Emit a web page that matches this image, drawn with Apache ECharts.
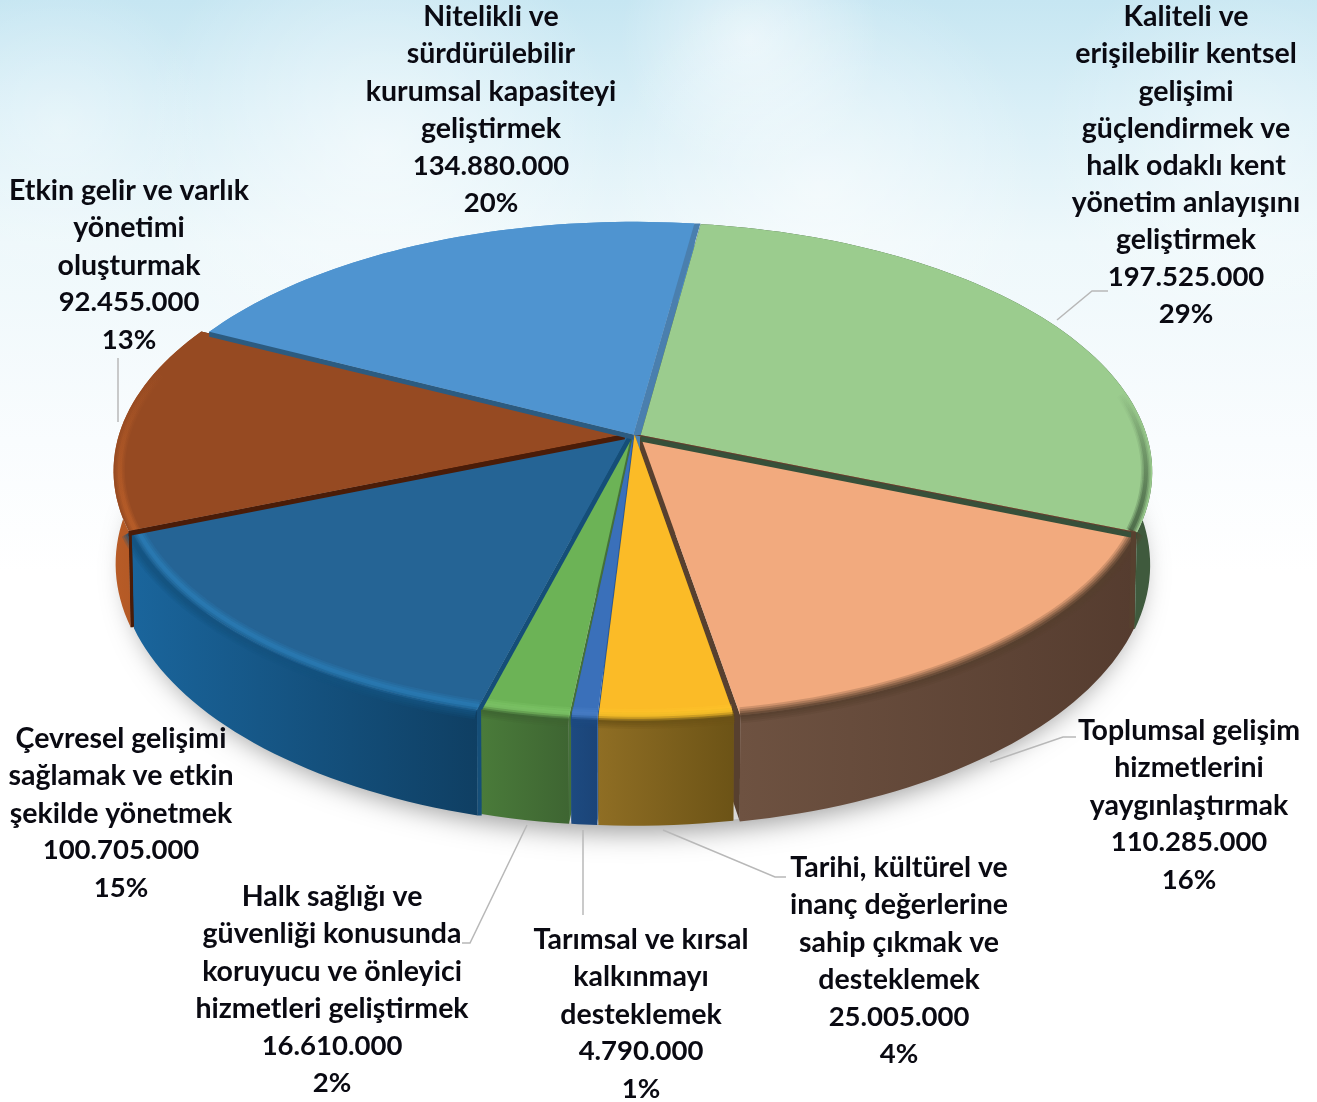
<!DOCTYPE html>
<html><head><meta charset="utf-8">
<style>html,body{margin:0;padding:0;background:#fff}#c{width:1317px;height:1102px}</style>
<script src="https://cdn.jsdelivr.net/npm/echarts@6/dist/echarts.min.js"></script>
</head><body><div id="c"></div>
<script>
const categories = [
  "Kaliteli ve\nerişilebilir kentsel\ngelişimi\ngüçlendirmek ve\nhalk odaklı kent\nyönetim anlayışını\ngeliştirmek",
  "Toplumsal gelişim\nhizmetlerini\nyaygınlaştırmak",
  "Tarihi, kültürel ve\ninanç değerlerine\nsahip çıkmak ve\ndesteklemek",
  "Tarımsal ve kırsal\nkalkınmayı\ndesteklemek",
  "Halk sağlığı ve\ngüvenliği konusunda\nkoruyucu ve önleyici\nhizmetleri geliştirmek",
  "Çevresel gelişimi\nsağlamak ve etkin\nşekilde yönetmek",
  "Etkin gelir ve varlık\nyönetimi\noluşturmak",
  "Nitelikli ve\nsürdürülebilir\nkurumsal kapasiteyi\ngeliştirmek"
];
const values = [197525000,110285000,25005000,4790000,16610000,100705000,92455000,134880000];
const percents = ["29%","16%","4%","1%","2%","15%","13%","20%"];

const topColors = ["#9bcc8e","#f2aa7e","#fbbb27","#3a70ba","#6cb356","#256495","#964a22","#4f94d0"];
const wallStops = [
  ["#3f5a3d","#3f5a3d"],["#6e5241","#553c2f"],["#8f6e24","#6c5316"],["#1d4a80","#1b4478"],
  ["#4a7b3a","#3e6532"],["#1a659c","#0f3f63"],["#b85c27","#a24e1f"],["#4f94d0","#4f94d0"]
];
const edgeWalls = [
  ["#3a5a38","#37533a"],["#57402f","#57402f"],["#7d5e1a","#7d5e1a"],["#2a5a9a","#2a5a9a"],
  ["#45703a","#45703a"],["#154e78","#154e78"],["#4a1c08","#4a1c08"],["#4a7fae","#2c5b80"]
];
// soft edge of each top face; fade = fades out towards the top of the chart
const softEdges = [
  {color:'#3f5a3d',r:0.988,range:[80,112],fade:true},
  {color:'#57402f',r:1},
  {color:'#6c5316',r:1.004,glow:'#ffc62a'},
  {color:'#1d4a80',r:1.004,glow:'#4a80c8'},
  {color:'#3e6532',r:1.004,glow:'#80c96a'},
  {color:'#14527f',r:1.006,glow:'#2c7db8'},
  {color:'#bd6029',r:0.988,range:[245,285],fade:true},
  null
];
// strips along a slice's radial edges: which edge, offset of the strip, colour, strip down the wall
const bands = [
  [{edge:1,dx:0,dy:6,color:'#37503a'}],
  [{edge:0,dx:-6,dy:0,color:'#57402f',drop:-5}],
  [],[],[],
  [{edge:0,dx:5,dy:0,color:'#154e78',drop:4}],
  [{edge:0,dx:0,dy:5,color:'#4a1c08',drop:3}],
  [{edge:0,dx:0,dy:5,color:'#2c5b80'},{edge:1,dx:6,dy:0,color:'#4a7fae'}]
];
const offsets = [[0.012,0.002],[0.011,0.000],[0.000,-0.002],[-0.002,-0.002],[-0.006,-0.002],[-0.012,0.002],[-0.019,-0.003],[-0.002,-0.001]];
const paintOrder = [7,0,6,5,1,4,3,2];
const labelAt = [[1186,17],[1189,731],[899,868],[641,940],[332,897],[121,739],[129,191],[491,17]];
const leaders = [
  [[1057,320],[1092,291],[1108,291]],
  [[990,762],[1063,737],[1076,737]],
  [[663,830],[775,877],[786,877]],
  [[583,830],[583,915]],
  [[527,825],[470,943],[462,943]],
  null,
  [[118,358],[118,422]],
  null
];

const CX=634.5, CY=435, R=506, S=243.8, P=0.1446, D=91, START=7.9;
const LINE=37.2, FONT='bold 28.5px Lato', NUMFONT='bold 27.5px Lato';
const total = values.reduce((a,b)=>a+b,0);
const rad = d=>d*Math.PI/180;
function proj(a,r,ox,oy,down){
  const X=ox+r*Math.sin(a), Y=oy-r*Math.cos(a), w=1-P*Y;
  return [CX+R*X/w*(down?0.996:1), CY+(S*Y+(down?D:0))/w];
}
function arc(a0,a1,r,ox,oy,down){
  const n=Math.max(4,Math.ceil((a1-a0)/rad(1.5))),pts=[];
  for(let i=0;i<=n;i++)pts.push(proj(a0+(a1-a0)*i/n,r,ox,oy,down));
  return pts;
}
function fmt(v){return String(v).replace(/\B(?=(\d{3})+$)/g,'.');}
function withAlpha(hex,al){
  const n=parseInt(hex.slice(1),16);
  return `rgba(${n>>16},${(n>>8)&255},${n&255},${al})`;
}

function renderItem(params,api){
  const i=params.dataIndex, value=api.value(0);
  let before=0; for(let k=0;k<i;k++)before+=values[k];
  const a0=rad(START+before/total*360), a1=a0+rad(value/total*360);
  const ox=offsets[i][0], oy=offsets[i][1];
  const order=paintOrder.indexOf(i)*10+10;
  const kids=[];
  const poly=(points,style,z)=>kids.push({type:'polygon',shape:{points},style,z2:order+z,silent:true});
  const apexT=proj(0,0,ox,oy,false), apexB=proj(0,0,ox,oy,true);
  const t0=proj(a0,1,ox,oy,false), b0=proj(a0,1,ox,oy,true);
  const t1=proj(a1,1,ox,oy,false), b1=proj(a1,1,ox,oy,true);
  poly([apexT,t0,b0,apexB],{fill:edgeWalls[i][1]},0);
  poly([apexT,t1,b1,apexB],{fill:edgeWalls[i][0]},0);
  const topArc=arc(a0,a1,1,ox,oy,false), botArc=arc(a0,a1,1,ox,oy,true);
  poly(topArc.concat(botArc.slice().reverse()),{fill:{type:'linear',x:0,y:0,x2:1,y2:0,colorStops:[
    {offset:0,color:wallStops[i][0]},{offset:1,color:wallStops[i][1]}]}},1);
  poly([apexT].concat(topArc),{fill:topColors[i]},2);
  const se=softEdges[i];
  if(se){
    const from=se.range?rad(se.range[0]):a0, to=se.range?rad(se.range[1]):a1;
    const pts=arc(from,to,se.r,ox,oy,false);
    const stroke=(col,al,w,z)=>kids.push({type:'polyline',shape:{points:pts},silent:true,z2:order+z,
      style:{fill:null,lineWidth:w,stroke:se.fade?{type:'linear',x:0,y:0,x2:0,y2:1,colorStops:[
        {offset:0,color:withAlpha(col,0)},{offset:1,color:withAlpha(col,al)}]}:withAlpha(col,al)}});
    (se.fade?[[10,.3],[7,.4],[4,.6]]:[[16,.22],[12,.3],[8,.4],[4,.6]]).forEach(([w,al])=>stroke(se.color,al,w,3));
    if(se.glow){
      const inner=arc(from,to,se.r-0.018,ox,oy,false);
      [[12,.25],[8,.35],[4,.55]].forEach(([w,al])=>kids.push({type:'polyline',shape:{points:inner},silent:true,z2:order+4,
        style:{fill:null,lineWidth:w,stroke:withAlpha(se.glow,al)}}));
    }
  }
  bands[i].forEach(b=>{
    const t=b.edge?t1:t0, bt=b.edge?b1:b0;
    kids.push({type:'polygon',silent:true,z2:190,style:{fill:b.color},
      shape:{points:[apexT,t,[t[0]+b.dx,t[1]+b.dy],[apexT[0]+b.dx,apexT[1]+b.dy]]}});
    if(b.drop){
      kids.push({type:'polygon',silent:true,z2:190,style:{fill:b.color},
        shape:{points:[t,bt,[bt[0]+b.drop,bt[1]],[t[0]+b.drop,t[1]]]}});
    }
  });
  if(leaders[i]){
    kids.push({type:'polyline',shape:{points:leaders[i]},style:{stroke:'#b8b8b8',lineWidth:1.5,fill:null},z2:200,silent:true});
  }
  const words=categories[i].split('\n');
  const lines=words.concat([fmt(value),percents[i]]);
  lines.forEach((txt,j)=>kids.push({type:'text',x:labelAt[i][0],y:labelAt[i][1]+j*LINE,z2:300,silent:true,
    style:{text:txt,font:j<words.length?FONT:NUMFONT,fill:'#0a0a12',align:'center',verticalAlign:'middle'}}));
  return {type:'group',children:kids};
}
function shadowItem(){
  const pts=arc(0,Math.PI*2,0.995,0,0,true);
  return {type:'polygon',shape:{points:pts},silent:true,z2:1,
    style:{fill:'#d8d8d8',shadowBlur:26,shadowColor:'rgba(0,0,0,0.38)',shadowOffsetY:8}};
}
const cloud=(x,y,r,o)=>({type:'circle',shape:{cx:x,cy:y,r},silent:true,z:-1,
  style:{fill:{type:'radial',x:.5,y:.5,r:.5,colorStops:[{offset:0,color:`rgba(255,255,255,${o})`},{offset:1,color:'rgba(255,255,255,0)'}]}}});
const chart=echarts.init(document.getElementById('c'),null,{renderer:'canvas'});
chart.setOption({
  animation:false,
  backgroundColor:'#fff',
  graphic:[
    {type:'rect',shape:{x:0,y:0,width:1317,height:1102},silent:true,z:-2,style:{fill:{type:'linear',x:0,y:0,x2:0,y2:1,colorStops:[
      {offset:0,color:'#c6e6f2'},{offset:.1,color:'#d9eff7'},{offset:.22,color:'#eef8fb'},{offset:.4,color:'#f9fcfe'},{offset:.52,color:'#ffffff'},{offset:1,color:'#ffffff'}]}}},
    cloud(750,40,130,.55),cloud(380,150,240,.55),cloud(60,130,150,.35),cloud(1240,150,200,.4),cloud(820,190,220,.5)
  ],
  series:[
    {type:'custom',coordinateSystem:'none',silent:true,z:1,data:[0],renderItem:shadowItem},
    {type:'custom',coordinateSystem:'none',silent:true,z:2,data:values.map(v=>[v]),encode:{value:0},renderItem}
  ]
});
</script></body></html>
